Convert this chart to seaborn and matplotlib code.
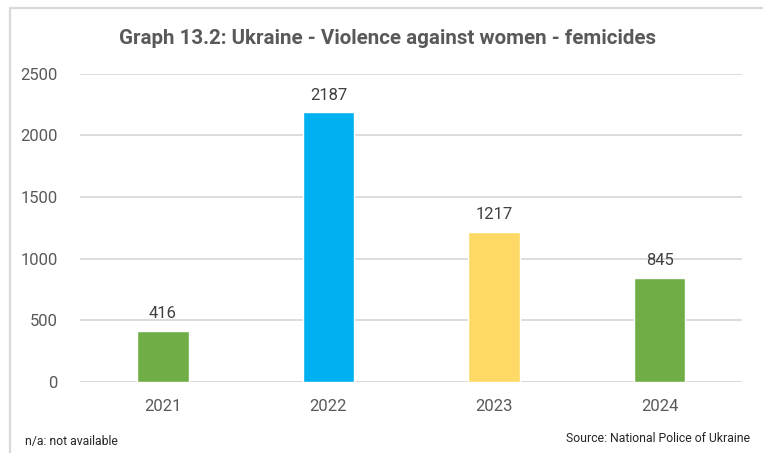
import matplotlib
matplotlib.use("Agg")
import matplotlib.pyplot as plt
import seaborn as sns
import pandas as pd
from matplotlib.lines import Line2D

years = ["2021", "2022", "2023", "2024"]
femicides = [416, 2187, 1217, 845]
bar_colors = ["#70AD47", "#00B0F0", "#FFD966", "#70AD47"]

df = pd.DataFrame({"Year": years, "Femicides": femicides})

sns.set_style("white")
plt.rcParams["font.family"] = ["Roboto", "DejaVu Sans"]

fig = plt.figure(figsize=(7.63, 4.53), dpi=100)
ax = fig.add_axes([0.105, 0.157, 0.868, 0.68])

sns.barplot(data=df, x="Year", y="Femicides", hue="Year", palette=bar_colors,
            legend=False, width=0.31, saturation=1, ax=ax)

for i, v in enumerate(femicides):
    ax.text(i, v + 80, str(v), ha="center", va="bottom", fontsize=12, color="#404040")

ax.set_ylim(0, 2500)
ax.set_xlim(-0.5, 3.5)
ax.set_yticks(range(0, 2501, 500))
ax.yaxis.grid(True, color="#D9D9D9", linewidth=1.3)
ax.set_axisbelow(True)
for s in ["top", "right", "left", "bottom"]:
    ax.spines[s].set_visible(False)
ax.axhline(0, color="#D9D9D9", linewidth=1.3, zorder=0)
ax.tick_params(axis="both", length=0, labelsize=12, labelcolor="#595959")
ax.tick_params(axis="y", pad=16)
ax.tick_params(axis="x", pad=12)
ax.set_xlabel("")
ax.set_ylabel("")

fig.text(0.508, 0.916, "Graph 13.2: Ukraine - Violence against women - femicides",
         ha="center", va="center", fontsize=14.8, fontweight="bold", color="#595959")
fig.text(0.033, 0.025, "n/a: not available", ha="left", va="center", fontsize=8.8, color="#262626")
fig.text(0.983, 0.033, "Source: National Police of Ukraine", ha="right", va="center",
         fontsize=8.8, color="#262626")

# outer frame: only top and left edges are visible in the crop
fig.add_artist(Line2D([0.0125, 1.0], [0.9825, 0.9825], transform=fig.transFigure,
                      color="#D9D9D9", linewidth=1.6))
fig.add_artist(Line2D([0.0125, 0.0125], [0.0, 0.9825], transform=fig.transFigure,
                      color="#D9D9D9", linewidth=1.6))

fig.savefig("out.png", dpi=100)
